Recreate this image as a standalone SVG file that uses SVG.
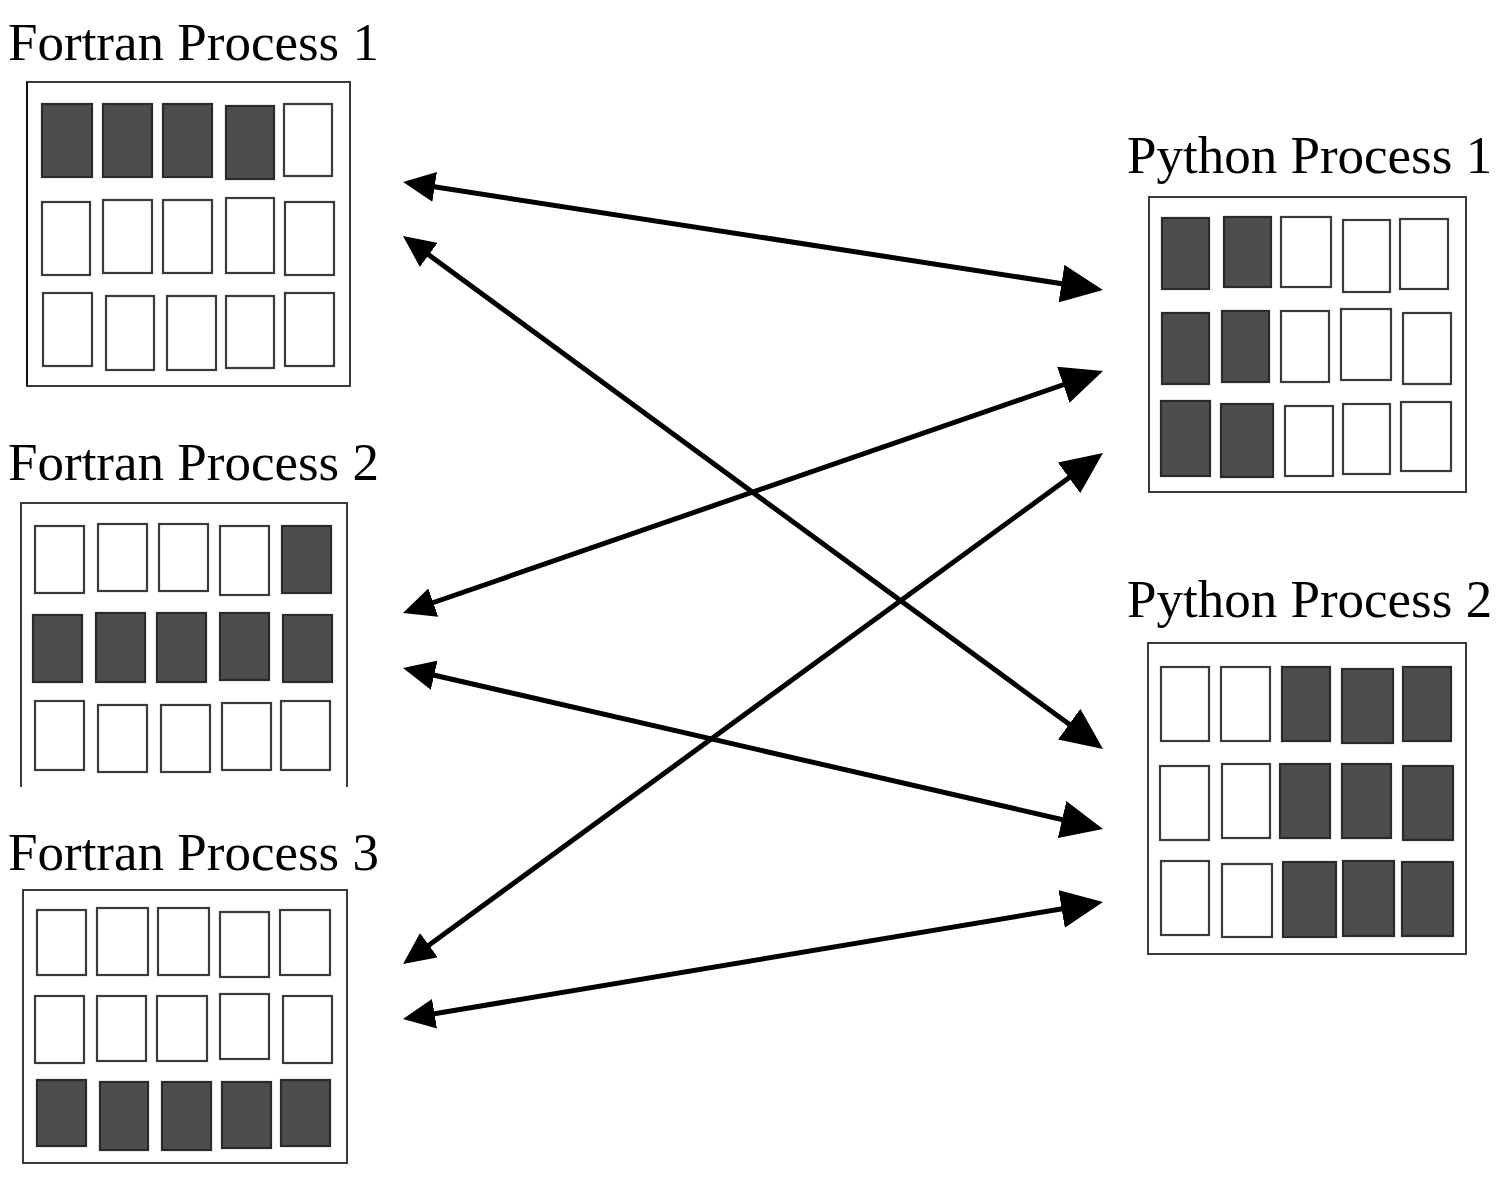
<svg xmlns="http://www.w3.org/2000/svg" width="1504" height="1186" viewBox="0 0 1504 1186">
<style>
.lbl{font-family:"Liberation Serif","Times New Roman",serif;font-size:53px;fill:#000}
.box{fill:none;stroke:#3a3a3a;stroke-width:2}
.e{fill:#fff;stroke:#3a3a3a;stroke-width:2.2}
.f{fill:#4d4d4d;stroke:#2a2a2a;stroke-width:2.2}
.arr{stroke:#000;stroke-width:5;fill:none;marker-start:url(#ahs);marker-end:url(#ahe)}
</style>
<defs>
<marker id="ahs" viewBox="0 0 32 30" markerWidth="32" markerHeight="30" markerUnits="userSpaceOnUse" refX="12" refY="15" orient="auto-start-reverse">
<path d="M0,0 L32,15 L0,30 z" fill="#000"/>
</marker>
<marker id="ahe" viewBox="0 0 42 38" markerWidth="42" markerHeight="38" markerUnits="userSpaceOnUse" refX="22" refY="19" orient="auto">
<path d="M0,0 L42,19 L0,38 z" fill="#000"/>
</marker>
</defs>
<rect width="1504" height="1186" fill="#fff"/>

<g id="fortran1">
<text class="lbl" x="8" y="60">Fortran Process 1</text>
<rect class="box" x="27" y="82" width="323" height="304"/>
<line x1="27" y1="82" x2="27" y2="386" stroke="#111" stroke-width="2"/>
<rect class="f" x="42" y="104" width="50" height="73"/>
<rect class="f" x="103" y="104" width="49" height="73"/>
<rect class="f" x="163" y="104" width="49" height="73"/>
<rect class="f" x="226" y="106" width="48" height="73"/>
<rect class="e" x="284" y="104" width="48" height="72"/>
<rect class="e" x="42" y="202" width="48" height="73"/>
<rect class="e" x="103" y="200" width="49" height="73"/>
<rect class="e" x="163" y="200" width="49" height="73"/>
<rect class="e" x="226" y="198" width="48" height="75"/>
<rect class="e" x="285" y="202" width="49" height="73"/>
<rect class="e" x="43" y="293" width="49" height="73"/>
<rect class="e" x="106" y="296" width="48" height="74"/>
<rect class="e" x="167" y="296" width="49" height="74"/>
<rect class="e" x="226" y="296" width="48" height="72"/>
<rect class="e" x="285" y="293" width="49" height="73"/>
</g>

<g id="fortran2">
<text class="lbl" x="8" y="480">Fortran Process 2</text>
<path class="box" d="M21,787 V503 H347 V787"/>
<rect class="e" x="35" y="526" width="49" height="67"/>
<rect class="e" x="98" y="524" width="49" height="67"/>
<rect class="e" x="159" y="524" width="49" height="67"/>
<rect class="e" x="220" y="526" width="49" height="69"/>
<rect class="f" x="282" y="526" width="49" height="67"/>
<rect class="f" x="33" y="615" width="49" height="67"/>
<rect class="f" x="96" y="613" width="49" height="69"/>
<rect class="f" x="157" y="613" width="49" height="69"/>
<rect class="f" x="220" y="613" width="49" height="67"/>
<rect class="f" x="283" y="615" width="49" height="67"/>
<rect class="e" x="35" y="701" width="49" height="69"/>
<rect class="e" x="98" y="705" width="49" height="67"/>
<rect class="e" x="161" y="705" width="49" height="67"/>
<rect class="e" x="222" y="703" width="49" height="67"/>
<rect class="e" x="281" y="701" width="49" height="69"/>
</g>

<g id="fortran3">
<text class="lbl" x="8" y="870">Fortran Process 3</text>
<rect class="box" x="23" y="890" width="324" height="273"/>
<rect class="e" x="37" y="910" width="49" height="65"/>
<rect class="e" x="97" y="908" width="51" height="67"/>
<rect class="e" x="158" y="908" width="51" height="67"/>
<rect class="e" x="220" y="912" width="49" height="65"/>
<rect class="e" x="280" y="910" width="50" height="65"/>
<rect class="e" x="35" y="996" width="49" height="67"/>
<rect class="e" x="97" y="996" width="49" height="65"/>
<rect class="e" x="157" y="996" width="50" height="65"/>
<rect class="e" x="220" y="994" width="49" height="65"/>
<rect class="e" x="283" y="996" width="49" height="67"/>
<rect class="f" x="37" y="1080" width="49" height="66"/>
<rect class="f" x="100" y="1082" width="48" height="68"/>
<rect class="f" x="162" y="1082" width="49" height="68"/>
<rect class="f" x="222" y="1082" width="49" height="66"/>
<rect class="f" x="281" y="1080" width="49" height="66"/>
</g>

<g id="python1">
<text class="lbl" x="1127" y="173">Python Process 1</text>
<rect class="box" x="1149" y="197" width="317" height="295"/>
<rect class="f" x="1162" y="218" width="47" height="71"/>
<rect class="f" x="1224" y="217" width="47" height="70"/>
<rect class="e" x="1281" y="217" width="50" height="70"/>
<rect class="e" x="1343" y="220" width="47" height="72"/>
<rect class="e" x="1400" y="219" width="48" height="70"/>
<rect class="f" x="1162" y="313" width="47" height="71"/>
<rect class="f" x="1222" y="311" width="47" height="71"/>
<rect class="e" x="1281" y="311" width="48" height="71"/>
<rect class="e" x="1341" y="309" width="50" height="71"/>
<rect class="e" x="1403" y="313" width="48" height="71"/>
<rect class="f" x="1161" y="401" width="49" height="75"/>
<rect class="f" x="1221" y="404" width="52" height="73"/>
<rect class="e" x="1285" y="406" width="48" height="70"/>
<rect class="e" x="1343" y="404" width="47" height="70"/>
<rect class="e" x="1401" y="402" width="50" height="69"/>
</g>

<g id="python2">
<text class="lbl" x="1127" y="617">Python Process 2</text>
<rect class="box" x="1148" y="643" width="318" height="311"/>
<rect class="e" x="1161" y="667" width="48" height="74"/>
<rect class="e" x="1221" y="667" width="49" height="74"/>
<rect class="f" x="1282" y="667" width="48" height="74"/>
<rect class="f" x="1342" y="669" width="51" height="74"/>
<rect class="f" x="1403" y="667" width="48" height="74"/>
<rect class="e" x="1160" y="766" width="49" height="74"/>
<rect class="e" x="1222" y="764" width="48" height="74"/>
<rect class="f" x="1280" y="764" width="50" height="74"/>
<rect class="f" x="1342" y="764" width="49" height="74"/>
<rect class="f" x="1403" y="766" width="50" height="74"/>
<rect class="e" x="1161" y="861" width="48" height="74"/>
<rect class="e" x="1222" y="864" width="50" height="73"/>
<rect class="f" x="1283" y="862" width="53" height="75"/>
<rect class="f" x="1343" y="861" width="51" height="75"/>
<rect class="f" x="1402" y="862" width="51" height="74"/>
</g>

<g id="connectors">
<line class="arr" x1="422.8" y1="185.0" x2="1083.2" y2="287.0"/>
<line class="arr" x1="419.1" y1="247.8" x2="1086.9" y2="737.2"/>
<line class="arr" x1="421.9" y1="606.5" x2="1084.1" y2="377.5"/>
<line class="arr" x1="422.5" y1="672.5" x2="1083.5" y2="824.5"/>
<line class="arr" x1="419.2" y1="952.2" x2="1086.8" y2="464.8"/>
<line class="arr" x1="422.7" y1="1015.7" x2="1083.3" y2="905.3"/>
</g>
</svg>
